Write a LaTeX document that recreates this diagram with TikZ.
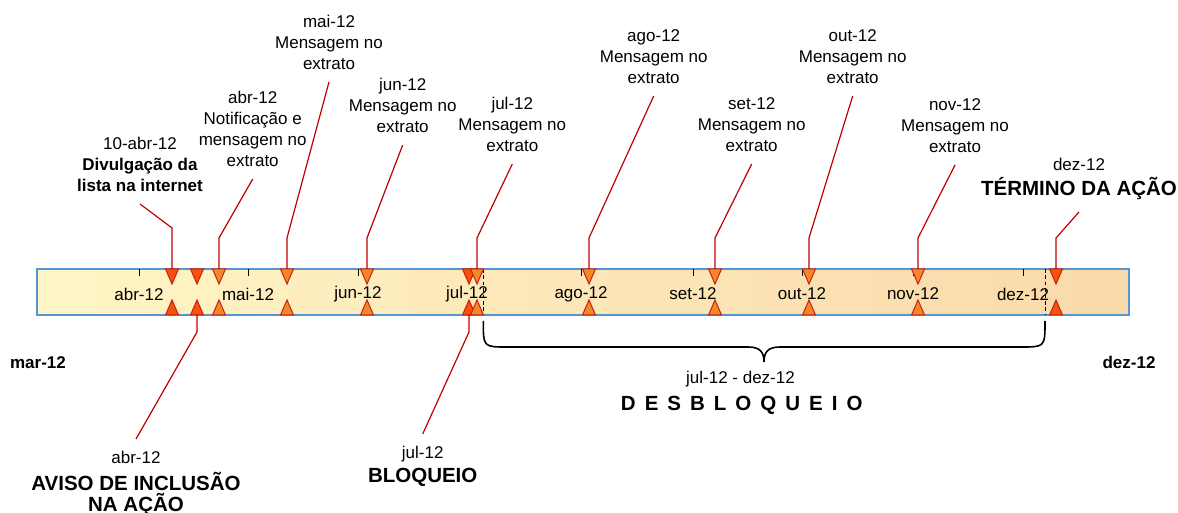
\documentclass[tikz,border=0pt]{standalone}
\usepackage{fontspec}
\setmainfont{Liberation Sans}
\definecolor{barleft}{RGB}{255,245,198}
\definecolor{barright}{RGB}{250,217,170}
\definecolor{barline}{RGB}{84,150,212}
\definecolor{mkdark}{RGB}{245,82,10}
\definecolor{mklight}{RGB}{242,137,40}
\definecolor{mkline}{RGB}{204,30,20}
\definecolor{callred}{RGB}{192,0,0}
\newcommand{\bigbf}{\fontsize{10.25}{10.5}\selectfont\bfseries}
\tikzset{
  lbl/.style={align=center,font=\fontsize{8.5}{10.5}\selectfont,inner sep=6pt},
  callout/.style={callred,line width=0.6pt},
  mkshape/.style={draw=mkline,line width=0.5pt}
}
\begin{document}
\begin{tikzpicture}[x=0.5pt,y=-0.5pt]
\useasboundingbox (0,0) rectangle (1178,513);
\shade[left color=barleft,right color=barright](37,269)rectangle(1129,315);
\draw[barline,line width=0.75pt](37,269)rectangle(1129,315);
\foreach \x/\m in {139/abr,248/mai,358/jun,467/jul,581/ago,693/set,802/out,913/nov,1023/dez}
{
    \draw(\x,269)--(\x,276);
    \node[lbl,inner sep=0pt] (m\m) at (\x,294) {\m-12};
}
\draw[dash pattern=on 1.8pt off 1.4pt](483.3,269)--(483.3,315);
\draw[dash pattern=on 1.8pt off 1.4pt](1045,269)--(1045,315);
\foreach \n/\x/\c in {div/172/mkdark,avi/197/mkdark,abr/219/mklight,mai/287/mklight,jun/367/mklight,blq/469/mkdark,jul/477/mklight,ago/589/mklight,set/715/mklight,out/809/mklight,nov/918/mklight,fim/1056/mkdark}
{
    \filldraw[mkshape,fill=\c](\x-6.5,269)--(\x+6.5,269)--(\x,284)--cycle;
    \filldraw[mkshape,fill=\c](\x-6.5,315)--(\x+6.5,315)--(\x,300)--cycle;
    \coordinate (up\n) at (\x,269);
    \coordinate (dn\n) at (\x,315);
}

\node[lbl,anchor=south] (ldiv) at (140,204) {10-abr-12\\\textbf{Divulgação da}\\\textbf{lista na internet}};
\draw[callout](updiv)--++(0,-41)--(ldiv.south);
\node[lbl,anchor=south] (labr) at (252.7,179) {abr-12\\Notificação e\\mensagem no\\extrato};
\draw[callout](upabr)--++(0,-31)--(labr.south);
\foreach \n/\x/\y in {mai/329/82,jun/402.7/145,jul/512.3/164,ago/653.7/96,set/751.7/164,out/852.7/96,nov/955/165}
{
    \node[lbl,anchor=south] (l\n) at (\x,\y) {\n-12\\Mensagem no\\extrato};
    \draw[callout](up\n)--++(0,-31)--(l\n.south);
}
\node[lbl,anchor=south] (lfim) at (1079,212) {dez-12\\[2pt]{\bigbf TÉRMINO DA AÇÃO}};
\draw[callout](upfim)--++(0,-31)--(lfim.south);

\node[lbl,anchor=north] (lavi) at (136,439) {abr-12\\[3pt]{\bigbf AVISO DE INCLUSÃO}\\{\bigbf NA AÇÃO}};
\draw[callout](dnavi)--++(0,17)--(lavi.north);
\node[lbl,anchor=north] (lblq) at (422.7,434) {jul-12\\[1.5pt]{\bigbf BLOQUEIO}};
\draw[callout](dnblq)--++(0,17)--(lblq.north);

\node[lbl,inner sep=0pt,font=\fontsize{8.5}{10.5}\selectfont\bfseries] (lmar) at (38,363) {mar-12};
\node[lbl,inner sep=0pt,font=\fontsize{8.5}{10.5}\selectfont\bfseries] (ldez) at (1129,362) {dez-12};

\draw[line width=0.8pt](483.3,321) .. controls (483.3,347) .. (507,347)--(748,347)
    .. controls (760,347) and (764,352) .. (764,362)
    .. controls (764,352) and (768,347) .. (780,347)--(1021,347)
    .. controls (1045,347) .. (1045,321);
\node[lbl,inner sep=0pt] (lper) at (740.5,379) {jul-12 - dez-12};
\node[inner sep=0pt,font=\bigbf] (ldes) at (741.7,405) {\spaceskip=4.5pt D E S B L O Q U E I O};
\end{tikzpicture}
\end{document}
